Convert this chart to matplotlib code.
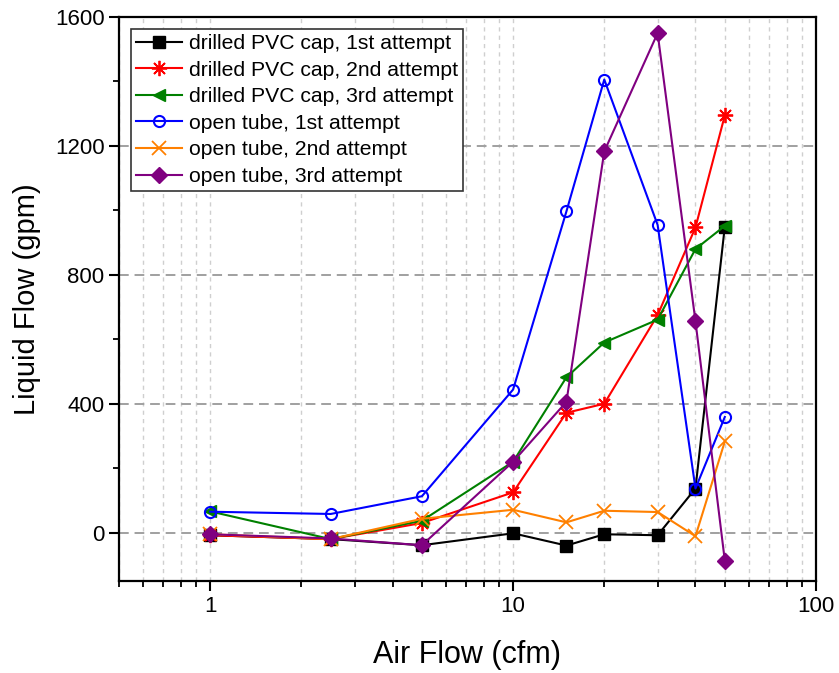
import matplotlib
matplotlib.use('Agg')
import matplotlib.pyplot as plt
from matplotlib.ticker import LogLocator, FixedLocator, NullFormatter, FixedFormatter

plt.rcParams['font.family'] = ['Liberation Sans', 'DejaVu Sans']

# Air flow settings (cfm)
air_flow = [1, 2.5, 5, 10, 15, 20, 30, 40, 50]

# Liquid flow (gpm) per run
pvc_1st = [-8, -20, -39, -2, -40, -5, -8, 137, 950]
pvc_2nd = [-8, -20, 30, 125, 372, 400, 675, 947, 1295]
pvc_3rd = [66, -20, 37, 220, 482, 590, 661, 880, 952]
tube_1st = [65, 58, 113, 444, 997, 1406, 955, 137, 359]
tube_2nd = [-5, -20, 43, 71, 32, 68, 64, -11, 283]
tube_3rd = [-5, -18, -39, 220, 406, 1183, 1550, 656, -87]

series = [
    ('drilled PVC cap, 1st attempt', pvc_1st, 'black', 's', 8),
    ('drilled PVC cap, 2nd attempt', pvc_2nd, '#ff0000', (8, 2, 0), 11),
    ('drilled PVC cap, 3rd attempt', pvc_3rd, '#008000', '<', 9),
    ('open tube, 1st attempt', tube_1st, '#0000ff', 'o', 8),
    ('open tube, 2nd attempt', tube_2nd, '#ff8000', 'x', 10),
    ('open tube, 3rd attempt', tube_3rd, '#800080', 'D', 8),
]

fig = plt.figure(figsize=(8.39, 6.73), dpi=100)
ax = fig.add_axes([0.1418, 0.1367, 0.8308, 0.838])

for label, vals, color, marker, ms in series:
    if marker == 'o':
        ax.plot(air_flow, vals, color=color, lw=1.5, marker=marker, ms=ms,
                mfc='none', mec=color, mew=1.5, label=label)
    elif marker in ('x', (8, 2, 0)):
        ax.plot(air_flow, vals, color=color, lw=1.5, marker=marker, ms=ms,
                mew=1.3, label=label)
    else:
        ax.plot(air_flow, vals, color=color, lw=1.5, marker=marker, ms=ms,
                mec=color, label=label)

ax.set_xscale('log')
ax.set_xlim(0.5, 100)
ax.set_ylim(-150, 1600)

ax.xaxis.set_major_locator(FixedLocator([1, 10, 100]))
ax.xaxis.set_major_formatter(FixedFormatter(['1', '10', '100']))
ax.xaxis.set_minor_locator(LogLocator(base=10, subs=[2, 3, 4, 5, 6, 7, 8, 9], numticks=20))
ax.xaxis.set_minor_formatter(NullFormatter())
ax.yaxis.set_major_locator(FixedLocator([0, 400, 800, 1200, 1600]))
ax.yaxis.set_minor_locator(FixedLocator([200, 600, 1000, 1400]))

ax.tick_params(which='major', direction='out', length=7, width=1.5, labelsize=16)
ax.tick_params(which='minor', direction='out', length=4, width=1.3)
ax.tick_params(top=False, right=False, which='both')

ax.grid(axis='y', which='major', color='#a0a0a0', ls=(0, (5, 3)), lw=1.4)
ax.grid(axis='x', which='both', color='#cfcfcf', ls=(0, (3, 3)), lw=1.0)
ax.set_axisbelow(True)

for sp in ax.spines.values():
    sp.set_linewidth(1.6)

ax.set_xlabel('Air Flow (cfm)', fontsize=22, labelpad=17)
ax.set_ylabel('Liquid Flow (gpm)', fontsize=21, labelpad=10)

leg = ax.legend(loc='upper left', fontsize=15.2, frameon=True, fancybox=False,
                edgecolor='#333333', framealpha=1, handlelength=2.2,
                handletextpad=0.3, labelspacing=0.36, borderaxespad=0.55,
                borderpad=0.25)
leg.get_frame().set_linewidth(1.2)

fig.savefig('out.png', dpi=100)
